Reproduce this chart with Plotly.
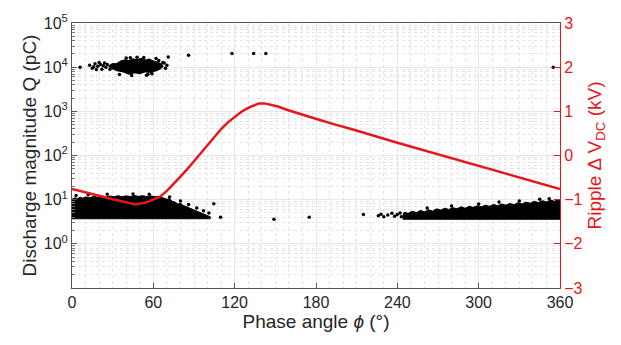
import plotly.graph_objects as go

# ---------------- data ----------------
# Ripple voltage (kV) vs phase angle (deg)
ripple_phase = [0, 10, 20, 30, 40, 47, 55, 60, 65, 70, 75, 80, 85, 90, 95, 100, 105, 110,
                115, 120, 125, 130, 135, 138, 142, 147, 152, 159, 169, 181, 193, 206, 240,
                270, 300, 330, 360]
ripple_kv = [-0.76, -0.83, -0.91, -0.99, -1.07, -1.11, -1.06, -1.0, -0.93, -0.8, -0.65,
             -0.48, -0.31, -0.13, 0.05, 0.24, 0.43, 0.6, 0.75, 0.88, 0.99, 1.08, 1.15, 1.18,
             1.18, 1.15, 1.11, 1.03, 0.93, 0.82, 0.71, 0.6, 0.29, 0.03, -0.24, -0.5, -0.76]

# Dense PD cluster (0-102 deg): upper envelope of Q (pC), floor
low_left_phase = [0, 2, 4, 6, 8, 10, 13, 16, 19, 22, 25, 28, 31, 34, 37, 40, 43, 46, 49, 52,
                  55, 58, 61, 64, 67, 70, 72, 74, 76, 78, 80, 82, 84, 86, 88, 90, 92, 94, 96,
                  98, 100, 102]
low_left_top = [10.2, 11.0, 10.5, 11.4, 10.8, 11.6, 11.0, 11.9, 11.3, 12.2, 11.5, 12.1, 11.6,
                12.3, 11.7, 12.2, 11.8, 12.4, 11.9, 12.3, 11.8, 12.2, 11.6, 11.9, 11.0, 10.2,
                10.6, 9.2, 8.8, 8.0, 8.3, 7.4, 7.0, 6.6, 6.2, 5.9, 5.5, 5.3, 4.9, 4.7, 4.4, 4.1]
low_left_floor = 3.7

# Dense PD cluster (244-360 deg)
low_right_phase = [244, 245, 248, 251, 254, 257, 260, 263, 266, 269, 272, 275, 278, 281, 284,
                   287, 290, 293, 296, 299, 302, 305, 308, 311, 314, 317, 320, 323, 326, 329,
                   332, 335, 338, 341, 344, 347, 350, 353, 356, 358, 360]
low_right_top = [4.4, 5.2, 4.9, 5.5, 5.1, 5.7, 5.3, 5.9, 5.5, 6.2, 5.8, 6.4, 6.0, 6.6, 6.2,
                 6.9, 6.4, 7.1, 6.7, 7.3, 6.9, 7.5, 7.1, 7.8, 7.3, 8.0, 7.5, 8.2, 7.7, 8.5,
                 8.0, 8.8, 8.3, 9.2, 8.6, 9.5, 8.9, 9.8, 9.2, 10.0, 9.5]
low_right_floor = 3.6

# Dense core of the high-magnitude cluster (around 1e4 pC), jagged outline
high_core_phase = [27, 30, 33, 36, 39, 42, 45, 48, 51, 54, 57, 60, 63, 66, 67, 65, 62, 58,
                   54, 50, 46, 42, 38, 34, 30, 27]
high_core_q = [10500, 12000, 11800, 13600, 14600, 13900, 15300, 14600, 15600, 14400, 15000,
               13600, 13000, 11600, 10400, 9200, 8400, 7700, 8000, 7200, 7600, 7000, 7900,
               8300, 9200, 10500]

# Individual scattered discharges
dots_phase = [6, 13, 15, 17, 19, 21, 22, 24, 25, 26, 28, 35, 40, 48, 55, 62, 68, 69, 70, 71,
              86, 118, 134, 143, 355,
              16, 18, 20, 23, 44, 53, 59, 64, 67, 43, 56,
              3, 12, 26, 45, 57, 72, 80, 86, 92, 97, 101, 104.6, 109.6, 149, 175, 215,
              226, 228, 230, 233, 236, 238, 240, 242, 243,
              262, 280, 300, 315, 330, 345, 352]
dots_q = [10000, 11000, 9500, 12000, 10500, 11500, 9000, 12500, 10000, 11500, 9000, 6800,
          16200, 16800, 6600, 15800, 12500, 9500, 11000, 17000,
          18500, 20500, 20500, 20500, 10000,
          10200, 8800, 12800, 10800, 6500, 16500, 7100, 14200, 12800, 16400, 6900,
          12.5, 13.0, 13.3, 13.5, 13.2, 11.5, 9.3, 7.8, 6.5, 5.6, 5.0, 8.1, 4.0, 3.6, 4.0,
          4.6, 4.3, 4.7, 4.1, 4.5, 4.9, 4.2, 4.6, 5.0, 4.1,
          6.5, 7.2, 8.0, 8.8, 9.3, 10.2, 10.5]

x_ticks = [0, 60, 120, 180, 240, 300, 360]
y_ticks = [1, 10, 100, 1000, 10000, 100000]
y_ticklabels = ["10<sup>0</sup>", "10<sup>1</sup>", "10<sup>2</sup>", "10<sup>3</sup>",
                "10<sup>4</sup>", "10<sup>5</sup>"]
y2_ticks = [-3, -2, -1, 0, 1, 2, 3]

# ---------------- figure ----------------
RED = "#e8161c"
FONT = "Liberation Sans, Arial, sans-serif"
TXT = "#262626"

fig = go.Figure()

def cluster(phase, top, floor):
    xs = list(phase) + list(reversed(phase))
    ys = list(top) + [floor] * len(phase)
    return go.Scatter(x=xs, y=ys, mode="lines", fill="toself", fillcolor="black",
                      line=dict(color="black", width=1), hoverinfo="skip", showlegend=False)

fig.add_trace(cluster(low_left_phase, low_left_top, low_left_floor))
fig.add_trace(cluster(low_right_phase, low_right_top, low_right_floor))
fig.add_trace(go.Scatter(x=high_core_phase, y=high_core_q, mode="lines", fill="toself",
                         fillcolor="black", line=dict(color="black", width=1.5),
                         showlegend=False))
fig.add_trace(go.Scatter(x=dots_phase, y=dots_q, mode="markers",
                         marker=dict(color="black", size=3.5), showlegend=False))
fig.add_trace(go.Scatter(x=ripple_phase, y=ripple_kv, mode="lines", yaxis="y2",
                         line=dict(color=RED, width=2.5),
                         showlegend=False))

minor_y = [m * 10 ** k for k in range(-1, 5) for m in range(2, 10)]

fig.update_layout(
    width=621, height=345,
    margin=dict(l=72, r=61, t=18, b=57),
    paper_bgcolor="white", plot_bgcolor="white",
    font=dict(family=FONT, size=16, color=TXT),
    xaxis=dict(
        range=[0, 360], tickvals=x_ticks, ticks="inside", ticklen=5, tickcolor="#555",
        showline=True, linecolor="#555", linewidth=1, mirror=True,
        showgrid=True, gridcolor="#e6e6e6", gridwidth=1, zeroline=False,
        minor=dict(dtick=10, showgrid=True, gridcolor="#e4e4e4", griddash="dot", ticks=""),
        title=dict(text="Phase angle <i>ϕ</i> (°)", font=dict(size=19, color=TXT), standoff=4),
        tickfont=dict(size=16, color=TXT),
    ),
    yaxis=dict(
        type="log", range=[-1, 5], tickvals=y_ticks, ticktext=y_ticklabels,
        ticks="inside", ticklen=5, tickcolor="#555",
        showline=True, linecolor="#555", linewidth=1,
        showgrid=True, gridcolor="#e6e6e6", gridwidth=1, zeroline=False,
        minor=dict(tickvals=minor_y, showgrid=True, gridcolor="#e4e4e4", griddash="dot",
                   ticks="inside", ticklen=3, tickcolor="#777"),
        title=dict(text="Discharge magnitude Q (pC)", font=dict(size=19, color=TXT), standoff=2),
        tickfont=dict(size=16, color=TXT),
    ),
    yaxis2=dict(
        overlaying="y", side="right", range=[-3, 3], tickvals=y2_ticks,
        ticks="inside", ticklen=6, tickcolor=RED,
        showline=True, linecolor=RED, linewidth=1, showgrid=False, zeroline=False,
        title=dict(text="Ripple Δ V<sub>DC</sub> (kV)", font=dict(size=19, color=RED), standoff=6),
        tickfont=dict(size=16, color=RED),
    ),
)

fig.write_html("out.html")
